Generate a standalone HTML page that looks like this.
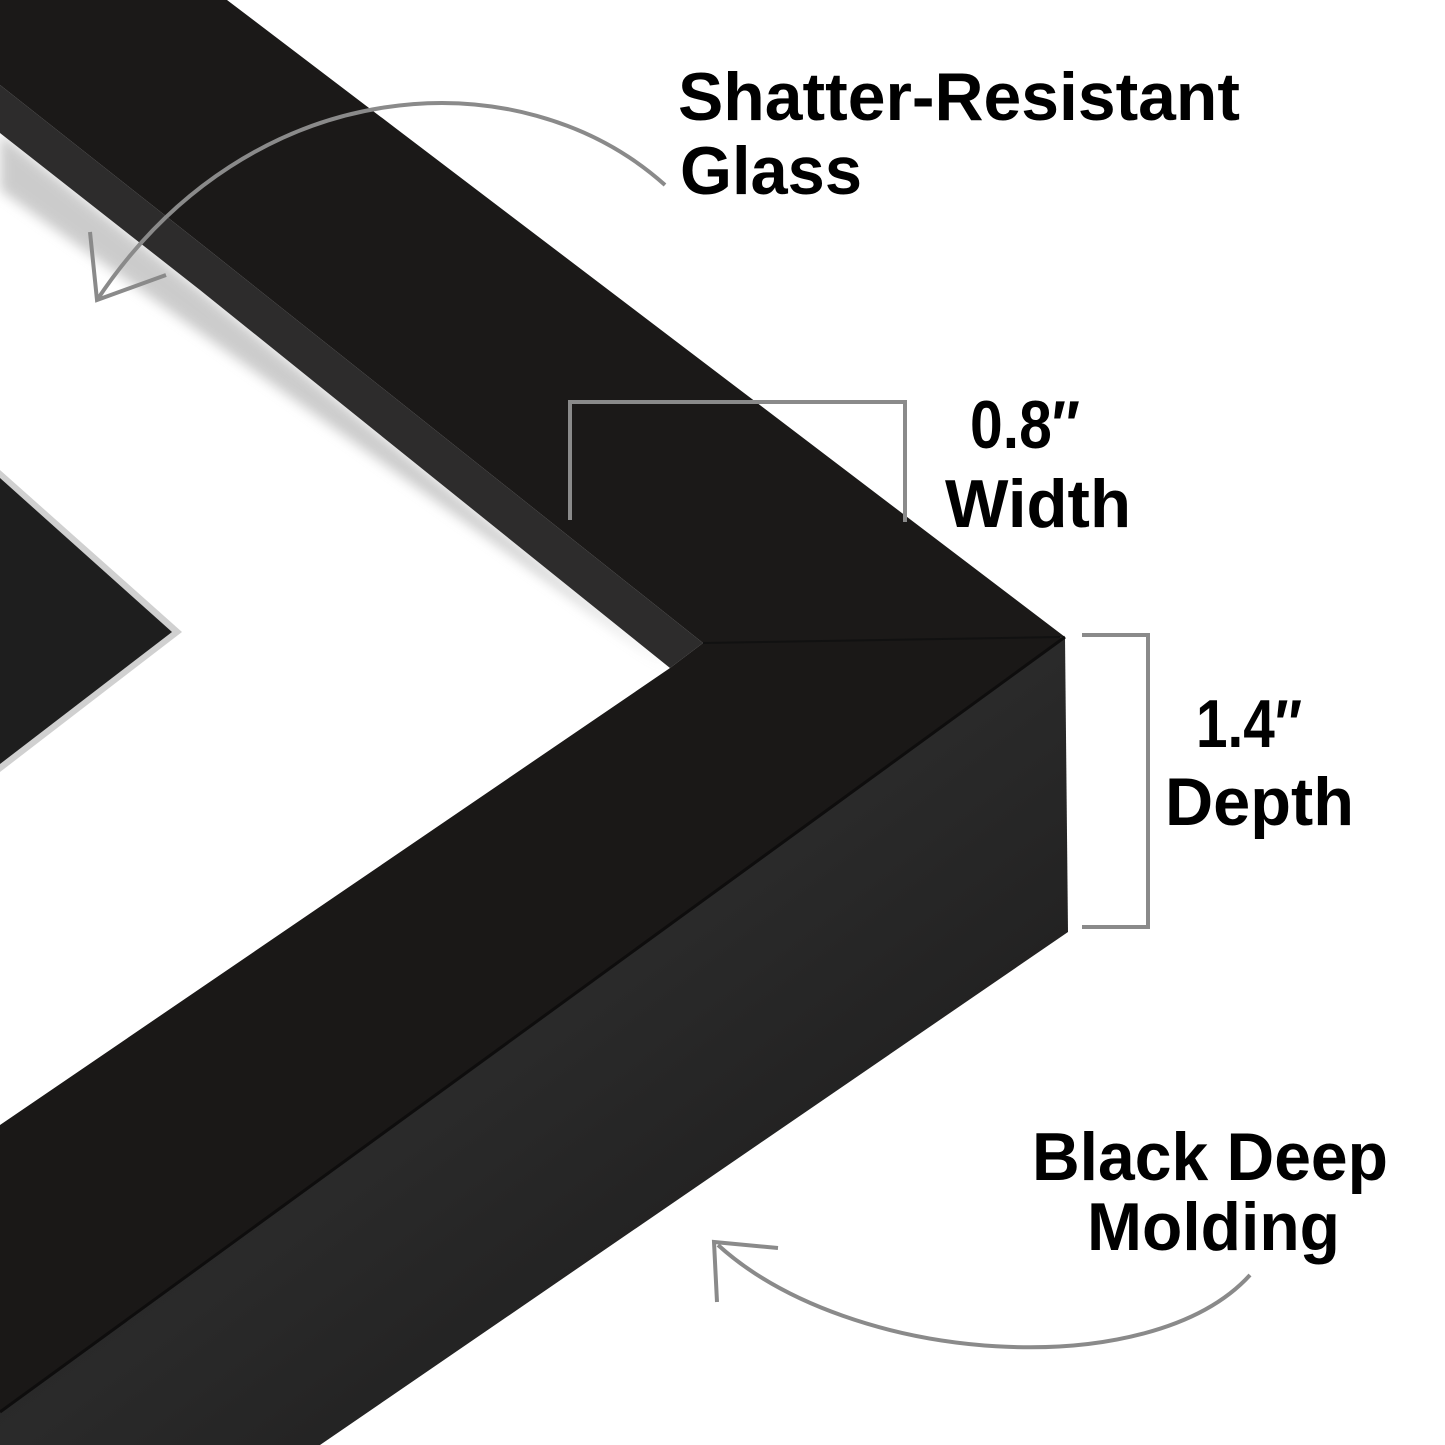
<!DOCTYPE html>
<html><head><meta charset="utf-8"><style>
html,body{margin:0;padding:0;background:#fff;}
svg{display:block}
text{font-family:"Liberation Sans",sans-serif;font-weight:bold;fill:#000;}
</style></head><body>
<svg width="1445" height="1445" viewBox="0 0 1445 1445" xmlns="http://www.w3.org/2000/svg">
<defs>
<linearGradient id="side" x1="0" y1="0" x2="1" y2="1">
<stop offset="0" stop-color="#141313"/><stop offset="0.5" stop-color="#2a2a2a"/><stop offset="1" stop-color="#161515"/>
</linearGradient>
<filter id="blur"><feGaussianBlur stdDeviation="6"/></filter>
</defs>
<rect width="1445" height="1445" fill="#fff"/>
<!-- dark mat/photo region -->
<polygon points="0,470 182,632 0,772" fill="#d0d0d0"/>
<polygon points="0,478 172,632 0,764" fill="#1e1e1e"/>
<!-- shadow under lip -->
<polygon points="0,133 200,290 670,668 0,190" fill="#999" filter="url(#blur)" opacity="0.5"/>
<!-- top face -->
<polygon points="0,0 227,0 1065,637 703,643 200,243 0,85" fill="#1b1918"/>
<!-- lip -->
<polygon points="0,85 200,243 703,643 670,668 200,290 0,133" fill="#2d2c2c"/>
<!-- bottom face -->
<polygon points="703,643 1065,637 0,1412 0,1125 670,668" fill="#1a1817"/>
<!-- mitre line -->
<line x1="703" y1="643" x2="1060" y2="637" stroke="#111" stroke-width="2"/>
<!-- side face -->
<polygon points="1065,637 1068,932 320,1445 0,1445 0,1412" fill="url(#side)"/>
<line x1="1065" y1="637" x2="0" y2="1412" stroke="#0e0d0d" stroke-width="3"/>
<!-- annotations -->
<g fill="none" stroke="#8a8a8a" stroke-width="4">
<path d="M665,185 C520,55 250,70 97,300"/>
<polyline points="90,232 97,300 166,275"/>
<polyline points="570,520 570,402 905,402 905,522"/>
<polyline points="1082,635 1148,635 1148,927 1082,927"/>
<path d="M1250,1275 C1150,1385 850,1365 718,1245"/>
<polyline points="717,1302 714,1242 778,1248"/>
</g>
<text x="678" y="120" font-size="68" textLength="562" lengthAdjust="spacingAndGlyphs">Shatter-Resistant</text>
<text x="680" y="194" font-size="68" textLength="182" lengthAdjust="spacingAndGlyphs">Glass</text>
<text x="970" y="448" font-size="68" textLength="110" lengthAdjust="spacingAndGlyphs">0.8″</text>
<text x="945" y="527" font-size="68" textLength="186" lengthAdjust="spacingAndGlyphs">Width</text>
<text x="1196" y="747" font-size="68" textLength="106" lengthAdjust="spacingAndGlyphs">1.4″</text>
<text x="1165" y="825" font-size="68" textLength="189" lengthAdjust="spacingAndGlyphs">Depth</text>
<text x="1032" y="1180" font-size="68" textLength="356" lengthAdjust="spacingAndGlyphs">Black Deep</text>
<text x="1087" y="1250" font-size="68" textLength="253" lengthAdjust="spacingAndGlyphs">Molding</text>
</svg>
</body></html>
